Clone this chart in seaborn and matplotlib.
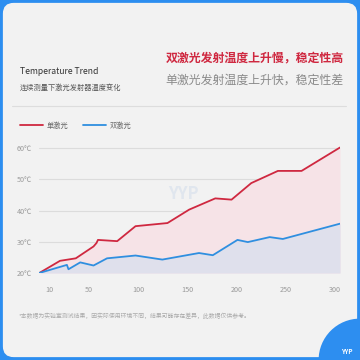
import numpy as np
import pandas as pd
import matplotlib.pyplot as plt
import seaborn as sns
from matplotlib.patches import FancyBboxPatch, Circle

# values (time vs temperature)
single_t = [0, 21, 37, 55, 58, 59.5, 79, 97.6, 130, 152, 178.5, 195, 215, 242, 266, 305]
single_temp = [20, 23.9, 24.7, 28.5, 29.6, 30.6, 30.2, 35.0, 36.0, 40.3, 43.9, 43.5, 48.8, 52.7, 52.7, 60.2]
dual_t = [0, 28, 29.6, 41.5, 55, 68.7, 97.6, 124.8, 162, 176, 201, 211.5, 233.7, 247, 305]
dual_temp = [20, 22.6, 21.2, 23.4, 22.4, 24.7, 25.6, 24.3, 26.4, 25.7, 30.6, 29.9, 31.5, 30.9, 35.8]
x_ticks = [10, 50, 100, 150, 200, 250, 300]
y_ticks = [20, 30, 40, 50, 60]
y_labels = ["20℃", "30℃", "40℃", "50℃", "60℃"]

red = "#cf2840"
blue = "#2f8fe0"
frame_blue = "#2d8ef0"

sns.set_theme(style="white")
plt.rcParams['font.family'] = ['Noto Sans CJK SC', 'DejaVu Sans']

df_single = pd.DataFrame({"t": single_t, "temp": single_temp})
df_dual = pd.DataFrame({"t": dual_t, "temp": dual_temp})

fig = plt.figure(figsize=(3.6, 3.6), dpi=100, facecolor=frame_blue)

# light card with rounded corners inside the blue frame
card = FancyBboxPatch((0.008, 0.008), 0.984, 0.984, boxstyle="round,pad=0,rounding_size=0.03",
                      transform=fig.transFigure, facecolor="#f2f2f2", edgecolor="none", zorder=-5)
fig.patches.append(card)

# header texts
fig.text(20 / 360, 1 - 72 / 360, "Temperature Trend", fontsize=6.2, color="#333333", va="center")
fig.text(20 / 360, 1 - 88 / 360, "连续测量下激光发射器温度变化", fontsize=5.2, color="#555555", va="center")
fig.text(344 / 360, 1 - 58 / 360, "双激光发射温度上升慢，稳定性高", fontsize=8.6, color=red,
         fontweight="bold", ha="right", va="center")
fig.text(344 / 360, 1 - 80 / 360, "单激光发射温度上升快，稳定性差", fontsize=8.6, color="#8a8a8a",
         ha="right", va="center")
fig.add_artist(plt.Line2D([12 / 360, 346 / 360], [1 - 106 / 360] * 2, transform=fig.transFigure,
                          color="#dddddd", lw=0.8))

# faint watermark
fig.text(183 / 360, 1 - 194 / 360, "YYP", fontsize=12, color="#e0e6ee", fontweight="bold",
         ha="center", va="center", zorder=-1)

# chart area
ax = fig.add_axes([39.3 / 360, 1 - 273 / 360, 300.7 / 360, 128 / 360])
ax.set_zorder(2)
ax.set_facecolor("none")
ax.fill_between(single_t, 20, single_temp, color="#f6e3e7", lw=0, zorder=1)
ax.fill_between(dual_t, 20, dual_temp, color="#dfe0ec", lw=0, zorder=2)
sns.lineplot(data=df_single, x="t", y="temp", color=red, lw=1.3, ax=ax, zorder=4, label="单激光")
sns.lineplot(data=df_dual, x="t", y="temp", color=blue, lw=1.3, ax=ax, zorder=4, label="双激光")
ax.set_xlim(0, 305)
ax.set_ylim(20, 61)
ax.set_yticks(y_ticks)
ax.set_yticklabels(y_labels)
ax.set_xticks(x_ticks)
ax.set_xticklabels([str(v) for v in x_ticks])
ax.grid(axis="y", color="#dcdcdc", lw=0.8, zorder=0)
ax.set_axisbelow(True)
ax.tick_params(axis="both", length=0, labelsize=5.2, labelcolor="#999999")
ax.tick_params(axis="x", pad=9)
ax.tick_params(axis="y", pad=5)
ax.set_xlabel("")
ax.set_ylabel("")
for s in ax.spines.values():
    s.set_visible(False)
leg = ax.legend(loc="lower left", bbox_to_anchor=(-0.085, 1.07), ncol=2, frameon=False,
                fontsize=5.2, handlelength=3.2, columnspacing=2.0, handletextpad=0.5)
for t in leg.get_texts():
    t.set_color("#666666")

# footnote
fig.text(19 / 360, 1 - 316 / 360, "*本数据为实验室测试结果，因实际使用环境不同，结果可能存在差异，此数据仅供参考。",
         fontsize=4.2, color="#aaaaaa", va="center")

# corner badge
fig.patches.append(Circle((1.0, 0.0), 0.115, transform=fig.transFigure, facecolor=frame_blue,
                          edgecolor="none", zorder=1))
fig.text(347 / 360, 1 - 351 / 360, "YYP", fontsize=4.5, color="white", fontweight="bold",
         ha="center", va="center", zorder=3)

fig.savefig("out.png", dpi=100, facecolor=fig.get_facecolor())
